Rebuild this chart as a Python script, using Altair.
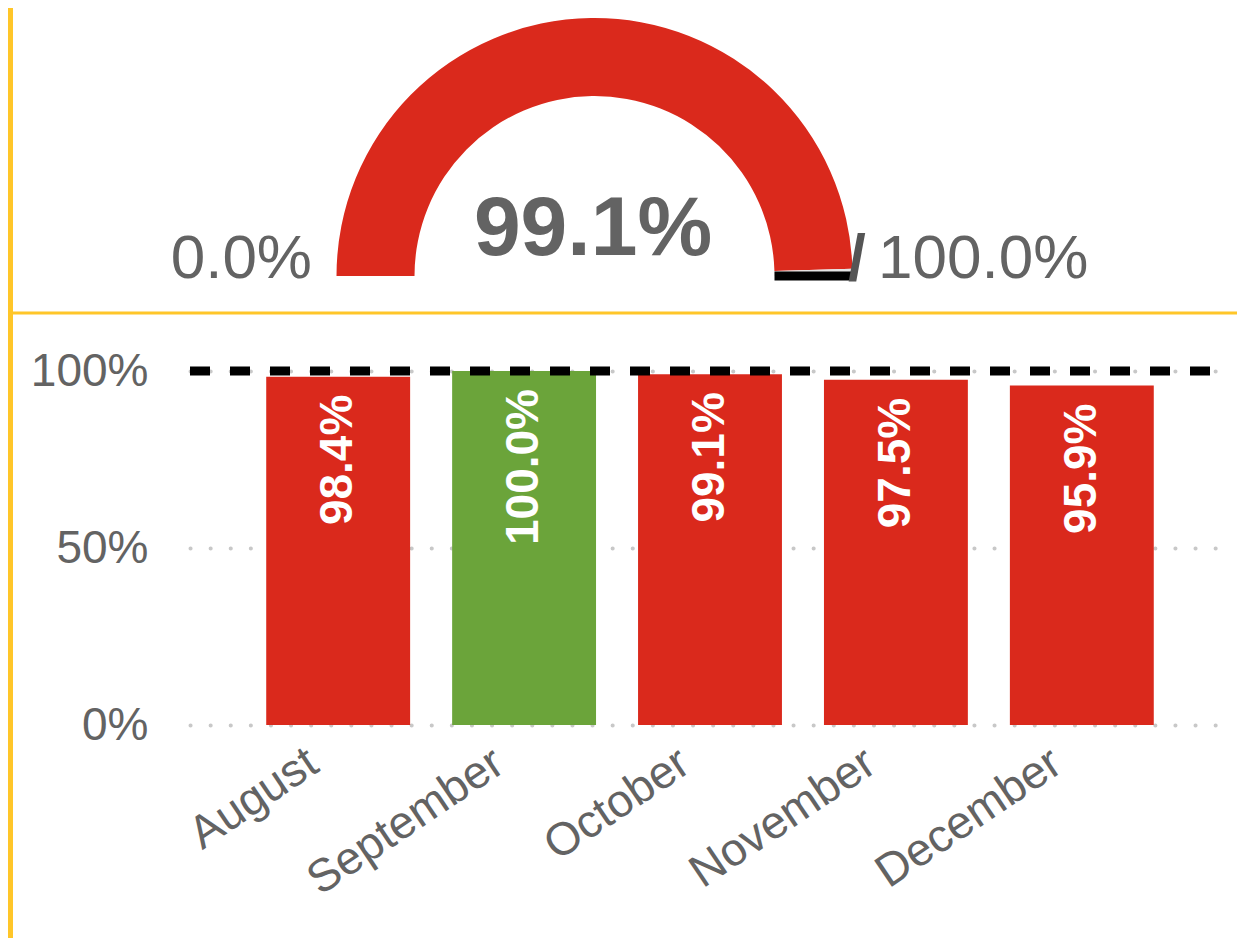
import math
import altair as alt
import pandas as pd

# ---- data ----
months = ["August", "September", "October", "November", "December"]
values = [98.4, 100.0, 99.1, 97.5, 95.9]
target_value = 100.0
gauge_value = 99.1
gauge_min = 0.0
gauge_max = 100.0

RED = "#DA291C"
GREEN = "#6BA43A"
GREY_TXT = "#636363"
YELLOW = "#FFC629"
FONT = "Liberation Sans"

bars_df = pd.DataFrame({"month": months, "value": values})
bars_df["label"] = [f"{v:.1f}%" for v in values]

gauge_df = pd.DataFrame({
    "start": [gauge_min, gauge_value],
    "end": [gauge_value, gauge_max],
    "color": [RED, "#E3E3E3"],
})
target_df = pd.DataFrame({"t": [target_value]})
center_lbl = pd.DataFrame({"text": [f"{gauge_value:.1f}%"]})
min_lbl = pd.DataFrame({"text": [f"{gauge_min:.1f}%"]})
max_lbl = pd.DataFrame({"text": [f"{gauge_max:.1f}%"]})
slash_lbl = pd.DataFrame({"text": ["/"]})
one = pd.DataFrame({"a": [0]})

# plot-area geometry (layout only)
W, H = 1040, 354
GCX, GCY = 404.5, -95
R_OUT, R_IN = 258, 180

theta_scale = alt.Scale(domain=[gauge_min, gauge_max],
                        range=[1.5 * math.pi, 2.5 * math.pi])

x_enc = alt.X("month:N", sort=months, title=None,
              scale=alt.Scale(paddingInner=0.226, paddingOuter=0.41),
              axis=alt.Axis(labelAngle=-34, labelFontSize=46, labelColor=GREY_TXT,
                            labelFont=FONT, domain=False, ticks=False,
                            labelAlign="right", labelBaseline="middle",
                            labelPadding=33, labelOffset=-25, labelLimit=0,
                            grid=False))
y_enc = alt.Y("value:Q", title=None,
              scale=alt.Scale(domain=[0, 100], nice=False),
              axis=alt.Axis(values=[0, 50, 100],
                            labelExpr="datum.value + '%'",
                            labelFontSize=46, labelColor=GREY_TXT, labelFont=FONT,
                            domain=False, ticks=False, labelPadding=42,
                            grid=True, gridColor="#C8C8C8", gridWidth=4,
                            gridCap="round", gridDash=[0.1, 20]))

bars = alt.Chart(bars_df).mark_bar().encode(
    x=x_enc,
    y=y_enc,
    color=alt.condition(alt.datum.value >= target_value,
                        alt.value(GREEN), alt.value(RED)),
)

bar_text = alt.Chart(bars_df).mark_text(
    angle=270, align="right", baseline="middle", dx=-18,
    font=FONT, fontSize=46, fontWeight="bold", color="white",
).encode(x=alt.X("month:N", sort=months), y="value:Q", text="label:N")

target_rule = alt.Chart(target_df).mark_rule(
    color="black", strokeWidth=9, strokeDash=[20, 20], strokeDashOffset=20,
    clip=False,
).encode(y=alt.Y("t:Q"))

gauge = alt.Chart(gauge_df).mark_arc(radius=R_OUT, radius2=R_IN).encode(
    theta=alt.Theta("start:Q", scale=theta_scale, stack=None),
    theta2="end:Q",
    color=alt.Color("color:N", scale=None),
    x=alt.value(GCX), y=alt.value(GCY),
)

target_mark = alt.Chart(target_df).mark_arc(
    radius=R_OUT, radius2=R_IN, stroke="black", strokeWidth=9, fill="black",
).encode(
    theta=alt.Theta("t:Q", scale=theta_scale, stack=None),
    theta2="t:Q",
    x=alt.value(GCX), y=alt.value(GCY),
)

center_text = alt.Chart(center_lbl).mark_text(
    font=FONT, fontSize=84, fontWeight="bold", color=GREY_TXT,
    align="center", baseline="alphabetic",
).encode(text="text:N", x=alt.value(403), y=alt.value(-116))

min_text = alt.Chart(min_lbl).mark_text(
    font=FONT, fontSize=62, color=GREY_TXT, align="right", baseline="alphabetic",
).encode(text="text:N", x=alt.value(122), y=alt.value(-93))

slash_text = alt.Chart(slash_lbl).mark_text(
    font=FONT, fontSize=64, fontWeight="bold", color="#555555",
    align="left", baseline="alphabetic",
).encode(text="text:N", x=alt.value(658), y=alt.value(-91))

max_text = alt.Chart(max_lbl).mark_text(
    font=FONT, fontSize=62, color=GREY_TXT, align="left", baseline="alphabetic",
).encode(text="text:N", x=alt.value(688), y=alt.value(-93))

h_line = alt.Chart(one).mark_rule(color=YELLOW, strokeWidth=3).encode(
    x=alt.value(-177), x2=alt.value(W + 7), y=alt.value(-58))
v_line = alt.Chart(one).mark_rule(color=YELLOW, strokeWidth=5).encode(
    x=alt.value(-179.5), y=alt.value(-363), y2=alt.value(H + 213))

chart = alt.layer(
    bars, bar_text, target_rule, gauge, target_mark,
    center_text, min_text, slash_text, max_text, h_line, v_line,
).properties(
    width=W, height=H,
    padding={"left": 182, "top": 363, "right": 7, "bottom": 213},
    autosize=alt.AutoSizeParams(type="none"),
    background="white",
).configure_view(stroke=None)

chart.save("out.html", embed_options={"renderer": "svg", "actions": False})
